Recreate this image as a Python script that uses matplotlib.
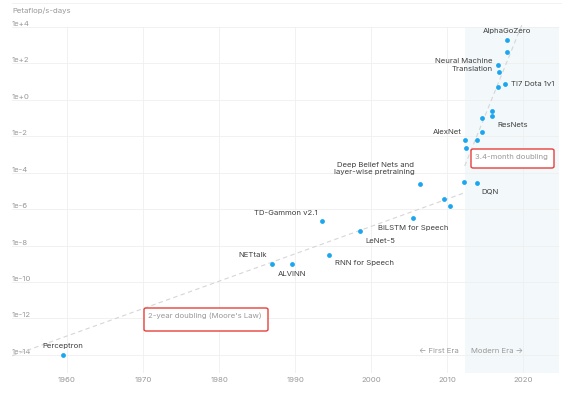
import numpy as np
import matplotlib
matplotlib.use("Agg")
import matplotlib.pyplot as plt
from matplotlib.patches import FancyBboxPatch

plt.rcParams['font.family'] = ['Inter', 'DejaVu Sans']

# training runs: year, log10(petaflop/s-days)
years = [1959.5, 1987.0, 1989.6, 1993.5, 1994.5, 1998.5, 2005.5, 2006.4,
         2009.6, 2010.3, 2012.2, 2012.4, 2012.5, 2013.9, 2013.9, 2014.6,
         2014.6, 2015.9, 2015.9, 2016.7, 2016.7, 2016.8, 2017.6, 2017.8,
         2017.9]
log_compute = [-14.0, -9.0, -9.0, -6.64, -8.5, -7.2, -6.5, -4.62,
               -5.42, -5.84, -4.5, -2.23, -2.67, -2.19, -4.56, -0.99,
               -1.74, -0.59, -0.9, 1.92, 0.72, 1.52, 0.87, 3.29,
               2.63]

# labelled runs: (name, index into data, alignment, dx, dy in pixels)
labels = [
    ("Perceptron", 0, "center", 0, 6),
    ("NETtalk", 1, "right", -4, 6),
    ("ALVINN", 2, "center", 0, -7),
    ("TD-Gammon v2.1", 3, "right", -3, 5),
    ("RNN for Speech", 4, "left", 4, -5),
    ("LeNet-5", 5, "left", 4, -7),
    ("BiLSTM for Speech", 6, "center", 0, -7),
    ("Deep Belief Nets and\nlayer-wise pretraining", 7, "right", -4, 9),
    ("AlexNet", 11, "right", -3, 5),
    ("DQN", 14, "left", 3, -6),
    ("ResNets", 18, "left", 4, -6),
    ("Neural Machine\nTranslation", 19, "right", -4, 0),
    ("TI7 Dota 1v1", 22, "left", 4, 0),
    ("AlphaGoZero", 23, "center", 0, 6),
]

# trend lines (start, end)
moore_years = [1952.8, 2012.3]
moore_log = [-14.05, -5.1]
modern_years = [2012.3, 2019.8]
modern_log = [-3.63, 4.1]

modern_start = 2012.3
y_ticks = [-14, -12, -10, -8, -6, -4, -2, 0, 2, 4]
x_ticks = [1960, 1970, 1980, 1990, 2000, 2010, 2020]

dot_color = "#1ba6ef"
red = "#e8403a"
grey = "#999999"
text_color = "#404040"
fs = 5.6

fig = plt.figure(figsize=(5.62, 3.96), dpi=100)
ax = fig.add_axes([12 / 562, 1 - 373 / 396, 547 / 562, 346 / 396])
ax.set_xlim(1952.76, 2024.7)
ax.set_ylim(-15, 4)

ax.axvspan(modern_start, 2024.7, color="#f3f8fa", zorder=0, lw=0)

for yt in y_ticks:
    ax.axhline(yt, color="#efefef", lw=0.6, zorder=1)
for xt in x_ticks:
    ax.axvline(xt, color="#efefef", lw=0.6, zorder=1)

ax.plot(moore_years, moore_log, ls=(0, (4, 3)), color="#d6d6d6", lw=0.8, zorder=2)
ax.plot(modern_years, modern_log, ls=(0, (4, 3)), color="#d6d6d6", lw=0.8,
        zorder=2, clip_on=False)

ax.scatter(years, log_compute, s=12, color=dot_color, zorder=3, lw=0)

for name, i, ha, dx, dy in labels:
    va = "bottom" if dy > 0 else ("top" if dy < 0 else "center")
    ax.annotate(name, (years[i], log_compute[i]), xytext=(dx, dy * 0.72),
                textcoords="offset points", ha=ha, va=va, fontsize=fs,
                color=text_color, linespacing=1.25, multialignment=ha,
                zorder=4)

# doubling boxes, placed in pixels of the figure
def doubling_box(x0, y0, x1, y1, text):
    box = FancyBboxPatch((x0 / 562, 1 - y1 / 396), (x1 - x0) / 562, (y1 - y0) / 396,
                         boxstyle="round,pad=0,rounding_size=0.004",
                         transform=fig.transFigure, fc="white", ec=red, lw=1.0, zorder=5)
    fig.patches.append(box)
    fig.text((x0 + 4) / 562, 1 - (y0 + 8) / 396, text, fontsize=fs, color=grey,
             ha="left", va="center", zorder=6)

doubling_box(144, 308, 268, 331, "2-year doubling (Moore's Law)")
doubling_box(471, 149, 554, 168, "3.4-month doubling")

ax.text(modern_start - 0.8, -13.8, "← First Era", ha="right", va="center",
        fontsize=fs, color=grey, zorder=4)
ax.text(modern_start + 0.8, -13.8, "Modern Era →", ha="left", va="center",
        fontsize=fs, color=grey, zorder=4)

ax.set_xticks(x_ticks)
ax.set_yticks(y_ticks)
ax.set_yticklabels([f"1e{'+' if v >= 0 else '-'}{abs(v)}" for v in y_ticks])
ax.tick_params(axis="both", length=0, labelsize=fs, labelcolor=grey)
ax.tick_params(axis="x", pad=3)
ax.tick_params(axis="y", pad=0)
for lbl in ax.get_yticklabels():
    lbl.set_horizontalalignment("left")
    lbl.set_verticalalignment("bottom")
for s in ax.spines.values():
    s.set_visible(False)

fig.text(12 / 562, 1 - 11 / 396, "Petaflop/s-days", fontsize=fs, color=grey,
         ha="left", va="center")
fig.add_artist(plt.Line2D([12 / 562, 1], [1 - 3 / 396, 1 - 3 / 396],
                          transform=fig.transFigure, color="#f0f0f0", lw=0.6))

fig.savefig("out.png", dpi=100)
